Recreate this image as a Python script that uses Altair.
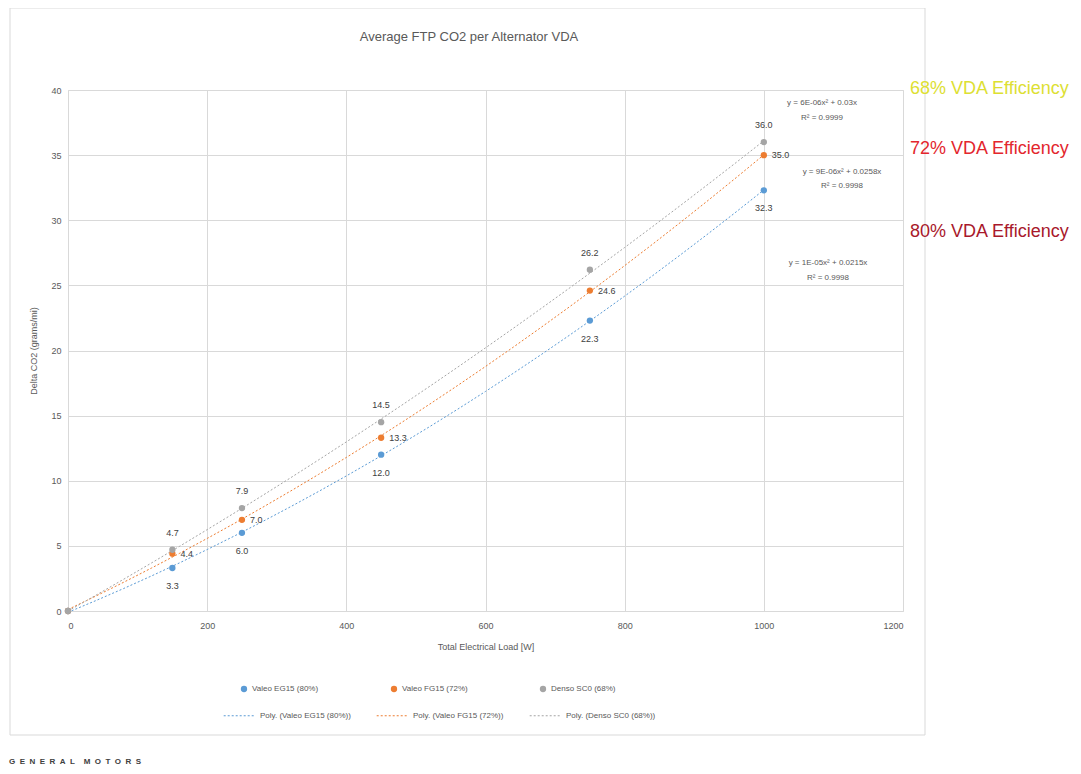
import altair as alt
import pandas as pd

# ---- data ----
loads = [0, 150, 250, 450, 750, 1000]
valeo_eg15 = [0, 3.3, 6.0, 12.0, 22.3, 32.3]
valeo_fg15 = [0, 4.4, 7.0, 13.3, 24.6, 35.0]
denso_sc0 = [0, 4.7, 7.9, 14.5, 26.2, 36.0]
series_names = ["Valeo EG15 (80%)", "Valeo FG15 (72%)", "Denso SC0 (68%)"]
trend_names = ["Poly. (Valeo EG15 (80%))", "Poly. (Valeo FG15 (72%))", "Poly. (Denso SC0 (68%))"]
colors = ["#5B9BD5", "#ED7D31", "#A5A5A5"]
x_ticks = [0, 200, 400, 600, 800, 1000, 1200]
y_ticks = [0, 5, 10, 15, 20, 25, 30, 35, 40]

rows = []
for name, vals in zip(series_names, [valeo_eg15, valeo_fg15, denso_sc0]):
    for x, y in zip(loads, vals):
        rows.append({"series": name, "load": x, "co2": y})
df = pd.DataFrame(rows)
df_lab = df[df["load"] > 0]

FONT = "Liberation Sans"
GRAY = "#595959"

xs = alt.Scale(domain=[0, 1200], nice=False)
ys = alt.Scale(domain=[0, 40], nice=False)

x_enc = alt.X("load:Q", scale=xs, axis=alt.Axis(values=x_ticks, title="Total Electrical Load [W]", format="d",
                                                 grid=True, gridColor="#d9d9d9", domain=False, ticks=False,
                                                 labelFontSize=9, labelColor=GRAY, labelPadding=10,
                                                 titleFontSize=9, titleColor=GRAY, titleFontWeight="normal",
                                                 titlePadding=12, labelFont=FONT, titleFont=FONT))
y_enc = alt.Y("co2:Q", scale=ys, axis=alt.Axis(values=y_ticks, title="Delta CO2 (grams/mi)",
                                                grid=True, gridColor="#d9d9d9", domain=False, ticks=False,
                                                labelFontSize=9, labelColor=GRAY, labelPadding=7,
                                                titleFontSize=9, titleColor=GRAY, titleFontWeight="normal",
                                                titlePadding=12, labelFont=FONT, titleFont=FONT))

base = alt.Chart(df)

border = alt.Chart(pd.DataFrame({"a": [0]})).mark_rect(fill=None, stroke="#d9d9d9", strokeWidth=1).encode(
    x=alt.value(-58), x2=alt.value(857), y=alt.value(-82), y2=alt.value(645))

trend = base.transform_regression(
    "load", "co2", method="poly", order=2, groupby=["series"], extent=[0, 1000]
).transform_calculate(
    trend="'Poly. (' + datum.series + ')'"
).mark_line(strokeWidth=1, strokeDash=[2, 2], clip=True).encode(
    x=x_enc,
    y=y_enc,
    stroke=alt.Stroke("trend:N", scale=alt.Scale(domain=trend_names, range=colors),
                      legend=alt.Legend(title=None, orient="none", direction="horizontal", columns=3,
                                        legendX=155, legendY=609, symbolType="stroke", symbolSize=1000,
                                        symbolStrokeWidth=1, symbolDash=[2, 2], labelFontSize=8,
                                        labelColor=GRAY, labelFont=FONT, columnPadding=23)),
    detail="series:N",
)

points = base.mark_point(filled=True, size=40, shape="circle", opacity=1).encode(
    x=x_enc, y=y_enc,
    color=alt.Color("series:N", scale=alt.Scale(domain=series_names, range=colors),
                    legend=alt.Legend(title=None, orient="none", direction="horizontal", columns=3,
                                      legendX=172, legendY=595, symbolType="circle", symbolSize=40,
                                      labelFontSize=8, labelColor=GRAY, labelFont=FONT,
                                      columnPadding=71)),
)

lab_style = dict(fontSize=9, color="#404040", font=FONT)
lab_eg = alt.Chart(df_lab[df_lab["series"] == series_names[0]]).mark_text(dy=18, **lab_style).encode(
    x=alt.X("load:Q", scale=xs), y=alt.Y("co2:Q", scale=ys), text=alt.Text("co2:Q", format=".1f"))
lab_fg = alt.Chart(df_lab[df_lab["series"] == series_names[1]]).mark_text(dx=8, align="left", **lab_style).encode(
    x=alt.X("load:Q", scale=xs), y=alt.Y("co2:Q", scale=ys), text=alt.Text("co2:Q", format=".1f"))
lab_de = alt.Chart(df_lab[df_lab["series"] == series_names[2]]).mark_text(dy=-17, **lab_style).encode(
    x=alt.X("load:Q", scale=xs), y=alt.Y("co2:Q", scale=ys), text=alt.Text("co2:Q", format=".1f"))


def note(txt, px, py, size=8, color=GRAY, align="center", weight="normal", font=FONT):
    return alt.Chart(pd.DataFrame({"t": [txt]})).mark_text(
        fontSize=size, color=color, align=align, baseline="middle", fontWeight=weight, font=font
    ).encode(text="t:N", x=alt.value(px), y=alt.value(py))


NB = "\u00a0"
gm = (NB * 2).join("GENERAL") + NB * 4 + (NB * 2).join("MOTORS")

# plot origin in page coords is (68, 90)
notes = [
    note("Average FTP CO2 per Alternator VDA", 469 - 68, 37 - 90, size=13),
    note("y = 6E-06x² + 0.03x", 822 - 68, 103 - 90),
    note("R² = 0.9999", 822 - 68, 118 - 90),
    note("y = 9E-06x² + 0.0258x", 842 - 68, 172 - 90),
    note("R² = 0.9998", 842 - 68, 186 - 90),
    note("y = 1E-05x² + 0.0215x", 828 - 68, 263 - 90),
    note("R² = 0.9998", 828 - 68, 278 - 90),
    note("68% VDA Efficiency", 910 - 68, 89 - 90, size=18, color="#dde033", align="left"),
    note("72% VDA Efficiency", 910 - 68, 149 - 90, size=18, color="#e3262d", align="left"),
    note("80% VDA Efficiency", 910 - 68, 232 - 90, size=18, color="#a8182b", align="left"),
    note(gm, 9 - 68, 762 - 90, size=8, color="#404040", align="left", weight="bold"),
]

chart = alt.layer(border, trend, points, lab_eg, lab_fg, lab_de, *notes).resolve_scale(
    color="independent", stroke="independent"
).properties(
    width=835, height=521,
    autosize=alt.AutoSizeParams(type="none"),
    padding={"left": 60, "top": 82, "right": 170, "bottom": 155},
).configure_view(stroke=None).configure(background="white")

chart.save("out.html", embed_options={"renderer": "svg", "actions": False})
